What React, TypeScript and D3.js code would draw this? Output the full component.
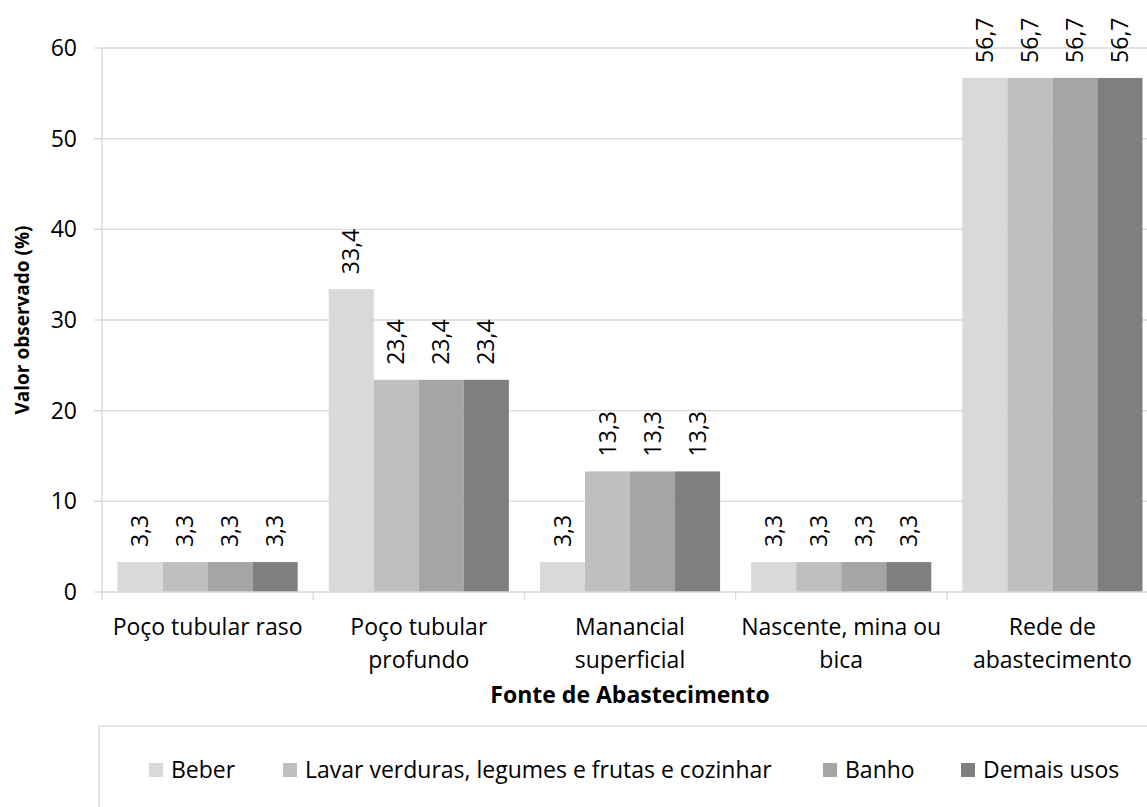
import * as d3 from "d3";
import * as React from "react";

// categories (line breaks as in the original axis labels)
const categories = [
  "Poço tubular raso",
  "Poço tubular\nprofundo",
  "Manancial\nsuperficial",
  "Nascente, mina ou\nbica",
  "Rede de\nabastecimento",
];

const seriesNames = [
  "Beber",
  "Lavar verduras, legumes e frutas e cozinhar",
  "Banho",
  "Demais usos",
];

const beber = [3.3, 33.4, 3.3, 3.3, 56.7];
const lavar = [3.3, 23.4, 13.3, 3.3, 56.7];
const banho = [3.3, 23.4, 13.3, 3.3, 56.7];
const demais = [3.3, 23.4, 13.3, 3.3, 56.7];

const yTicks = [0, 10, 20, 30, 40, 50, 60];

const colors = ["#d9d9d9", "#bfbfbf", "#a5a5a5", "#7f7f7f"];

const W = 1147,
  H = 807;
const margin = { top: 48, right: -11, bottom: 215, left: 102 };
const FONT = "'Open Sans', sans-serif";
const GRID = "#d9d9d9";

// legend item start positions (layout only)
const legendX = [149, 283, 823, 961];

const fmt = (v: number) => d3.format(".1f")(v).replace(".", ",");

export default function App() {
  const seriesValues = [beber, lavar, banho, demais];
  const x0 = margin.left,
    x1 = W - margin.right,
    yb = H - margin.bottom;

  const x = d3
    .scaleBand<number>()
    .domain(d3.range(categories.length))
    .range([x0, x1])
    .paddingInner(0.147)
    .paddingOuter(0.0735);
  const xs = d3
    .scaleBand<number>()
    .domain(d3.range(seriesNames.length))
    .range([0, x.bandwidth()]);
  const y = d3.scaleLinear().domain([0, 60]).range([yb, margin.top]);

  const step = x.step();
  const boundaries = d3.range(categories.length + 1).map((i) => x0 + i * step);

  return (
    <svg
      width={W}
      height={H}
      style={{ position: "absolute", left: 0, top: 0, background: "#fff" }}
      fontFamily={FONT}
    >
      {/* grid */}
      {yTicks
        .filter((t) => t > 0)
        .map((t) => (
          <line key={t} x1={x0} x2={x1} y1={y(t)} y2={y(t)} stroke={GRID} strokeWidth={1.3} />
        ))}
      {/* y axis */}
      <line x1={x0} x2={x0} y1={y(60)} y2={yb} stroke={GRID} strokeWidth={1.3} />
      {yTicks.map((t) => (
        <g key={t}>
          <line x1={x0 - 8} x2={x0} y1={y(t)} y2={y(t)} stroke={GRID} strokeWidth={1.3} />
          <text x={x0 - 25} y={y(t)} dy="0.35em" textAnchor="end" fontSize={23} fill="#000">
            {t}
          </text>
        </g>
      ))}

      {/* bars */}
      {categories.map((c, i) => (
        <g key={c}>
          {seriesValues.map((vals, s) => {
            const bx = (x(i) as number) + (xs(s) as number);
            return (
              <rect
                key={s}
                x={bx}
                y={y(vals[i])}
                width={xs.bandwidth()}
                height={yb - y(vals[i])}
                fill={colors[s]}
              />
            );
          })}
        </g>
      ))}

      {/* x axis */}
      <line x1={x0} x2={x1} y1={yb} y2={yb} stroke={GRID} strokeWidth={1.3} />
      {boundaries.map((bx, i) => (
        <line key={i} x1={bx} x2={bx} y1={yb} y2={yb + 8} stroke={GRID} strokeWidth={1.3} />
      ))}

      {/* value labels */}
      {categories.map((c, i) =>
        seriesValues.map((vals, s) => {
          const cx = (x(i) as number) + (xs(s) as number) + xs.bandwidth() / 2;
          const ty = y(vals[i]) - 15;
          return (
            <text
              key={c + s}
              transform={`translate(${cx},${ty}) rotate(-90)`}
              dy="0.35em"
              fontSize={23}
              fill="#000"
            >
              {fmt(vals[i])}
            </text>
          );
        })
      )}

      {/* category labels */}
      {categories.map((c, i) => (
        <text
          key={c}
          x={(x(i) as number) + x.bandwidth() / 2}
          y={yb + 43}
          textAnchor="middle"
          fontSize={23}
          fill="#000"
        >
          {c.split("\n").map((line, k) => (
            <tspan key={k} x={(x(i) as number) + x.bandwidth() / 2} dy={k === 0 ? 0 : 33}>
              {line}
            </tspan>
          ))}
        </text>
      ))}

      {/* axis titles */}
      <text
        x={(x0 + x1) / 2}
        y={703}
        textAnchor="middle"
        fontSize={23}
        fontWeight="bold"
        fill="#000"
      >
        Fonte de Abastecimento
      </text>
      <text
        transform={`translate(29,${(margin.top + yb) / 2}) rotate(-90)`}
        textAnchor="middle"
        fontSize={19}
        fontWeight="bold"
        fill="#000"
      >
        Valor observado (%)
      </text>

      {/* legend */}
      <rect x={99} y={726} width={1100} height={120} fill="none" stroke={GRID} strokeWidth={1.3} />
      {seriesNames.map((n, s) => (
        <g key={n}>
          <rect x={legendX[s]} y={763} width={14} height={14} fill={colors[s]} />
          <text x={legendX[s] + 22} y={770} dy="0.35em" fontSize={23} fill="#000">
            {n}
          </text>
        </g>
      ))}
    </svg>
  );
}
